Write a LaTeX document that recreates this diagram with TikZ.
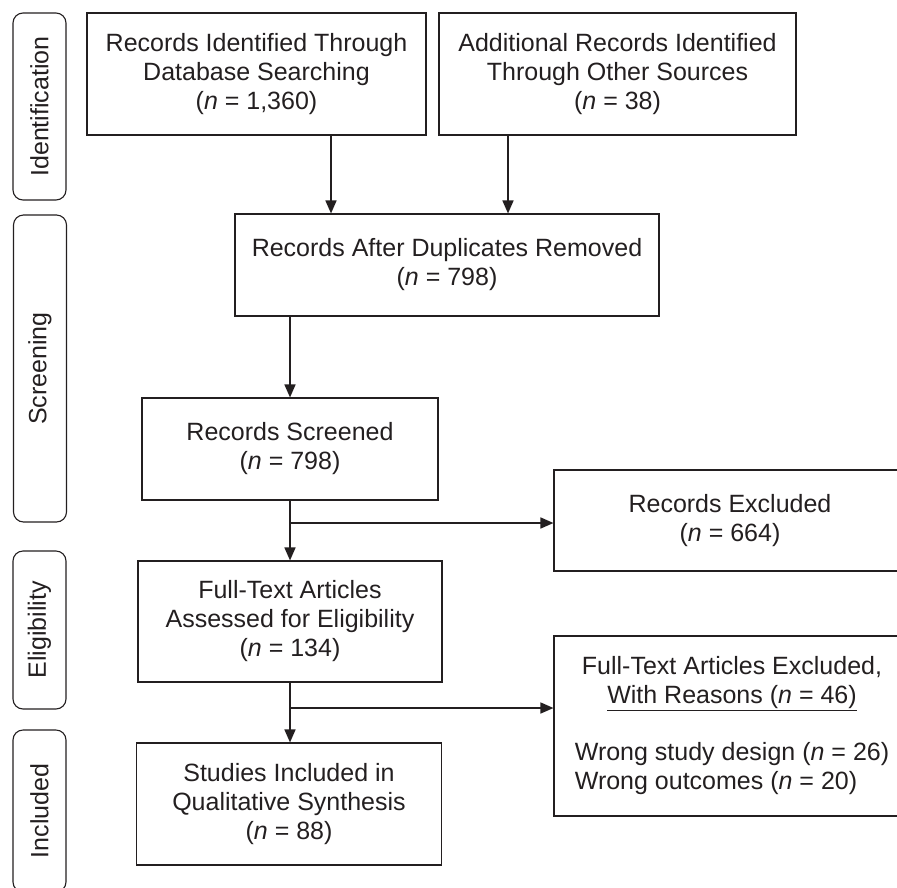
\documentclass[tikz,border=0pt]{standalone}
\usepackage{fontspec}
\setmainfont{Liberation Sans}
\usetikzlibrary{arrows.meta}
\definecolor{ink}{HTML}{231F20}
\begin{document}
\begin{tikzpicture}[x=1pt,y=-1pt,
  box/.style={draw=ink, line width=1.1pt, align=center, inner sep=0pt, font=\fontsize{25}{29}\selectfont, text=ink},
  side/.style={draw=ink, line width=1.1pt, rounded corners=10pt, rotate=90, minimum height=53pt, inner sep=0pt, font=\fontsize{25}{29}\selectfont, text=ink},
  arr/.style={draw=ink, line width=1.6pt, -{Triangle[length=13pt,width=11pt]}}]
\useasboundingbox (0,0) rectangle (897,887);
\clip (0,0) rectangle (897,887);
% side labels
\node[side, minimum width=187pt] (s1) at (39.5,106.5) {Identification};
\node[side, minimum width=307pt] (s2) at (40,368.5) {Screening};
\node[side, minimum width=158pt] (s3) at (39.5,630) {Eligibility};
\node[side, minimum width=162pt] (s4) at (39.5,811) {Included};
% boxes
\node[box, minimum width=339pt, minimum height=122pt] (b1) at (256.5,74) {Records Identified Through\\Database Searching\\(\textit{n} = 1,360)};
\node[box, minimum width=357pt, minimum height=122pt] (b2) at (617.5,74) {Additional Records Identified\\Through Other Sources\\(\textit{n} = 38)};
\node[box, minimum width=424pt, minimum height=102pt] (b3) at (447,265) {Records After Duplicates Removed\\(\textit{n} = 798)};
\node[box, minimum width=296pt, minimum height=102pt] (b4) at (290,449) {Records Screened\\(\textit{n} = 798)};
\node[box, minimum width=352pt, minimum height=101pt] (b5) at (730,520.5) {Records Excluded\\(\textit{n} = 664)};
\node[box, minimum width=304pt, minimum height=121pt] (b6) at (290,621.5) {Full-Text Articles\\Assessed for Eligibility\\(\textit{n} = 134)};
\node[box, minimum width=356pt, minimum height=180pt] (b7) at (732,726) {\begin{tabular}{@{}l@{}}\multicolumn{1}{@{}c@{}}{Full-Text Articles Excluded,}\\ \multicolumn{1}{@{}c@{}}{\underline{With Reasons (\textit{n} = 46)}}\\[28pt] Wrong study design (\textit{n} = 26)\\ Wrong outcomes (\textit{n} = 20)\end{tabular}};
\node[box, minimum width=305pt, minimum height=122pt] (b8) at (289,804) {Studies Included in\\Qualitative Synthesis\\(\textit{n} = 88)};
% connectors
\coordinate (c1) at (331,0);
\coordinate (c2) at (508,0);
\coordinate (j1) at (290,523);
\coordinate (j2) at (290,708);
\draw[arr] (b1.south -| c1) -- (b3.north -| c1);
\draw[arr] (b2.south -| c2) -- (b3.north -| c2);
\draw[arr] (b3.south -| b4.north) -- (b4.north);
\draw[arr] (b4.south) -- (b6.north);
\draw[arr] (j1) -- (j1 -| b5.west);
\draw[arr] (b6.south) -- (b8.north -| b6.south);
\draw[arr] (j2) -- (j2 -| b7.west);
\end{tikzpicture}
\end{document}
